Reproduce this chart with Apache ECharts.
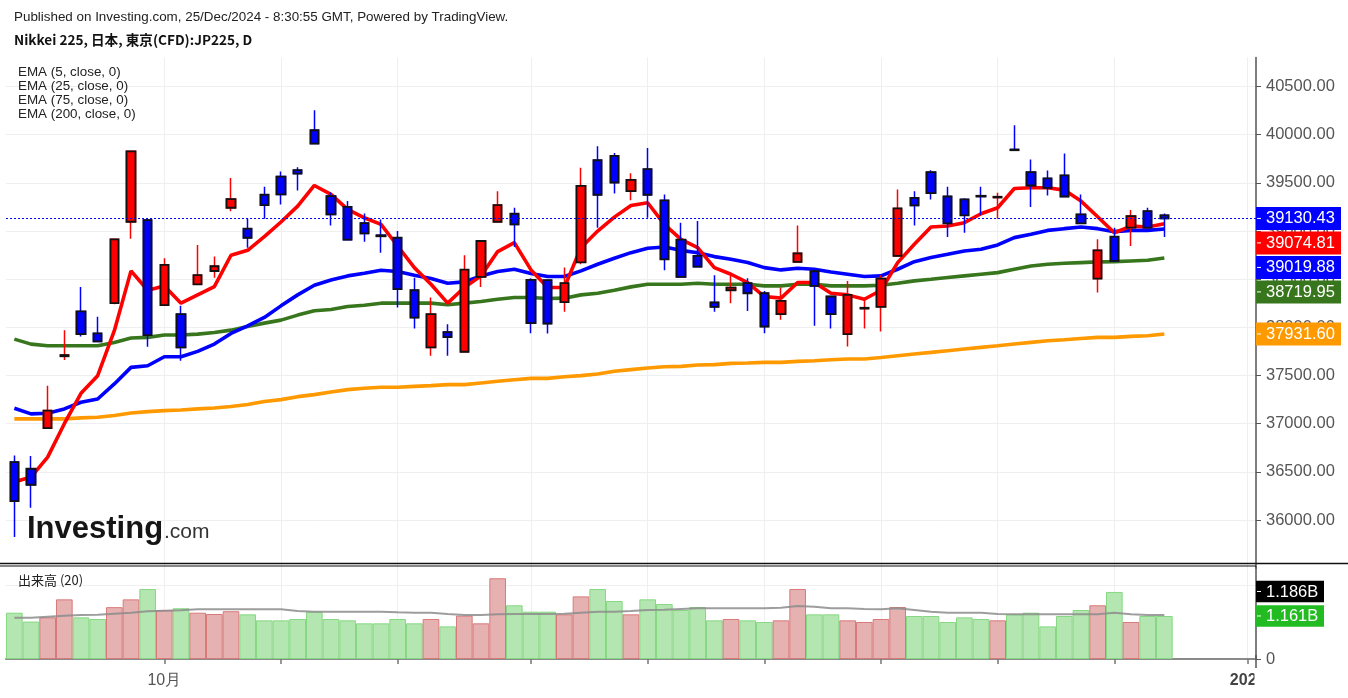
<!DOCTYPE html>
<html><head><meta charset="utf-8">
<script src="https://cdn.jsdelivr.net/npm/echarts@6/dist/echarts.min.js"></script>
<style>html,body{margin:0;padding:0;background:#fff}#c{width:1348px;height:698px}</style>
</head><body><div id="c"></div>
<script>
// ---------------- DATA ----------------
const categories = [
 '09/17','09/18','09/19','09/20','09/24','09/25','09/26','09/27','09/30',
 '10/01','10/02','10/03','10/04','10/07','10/08','10/09','10/10','10/11','10/15','10/16','10/17','10/18','10/21','10/22','10/23','10/24','10/25','10/28','10/29','10/30','10/31',
 '11/01','11/04','11/05','11/06','11/07','11/08','11/11','11/12','11/13','11/14','11/15','11/18','11/19','11/20','11/21','11/22','11/25','11/26','11/27','11/28','11/29',
 '12/02','12/03','12/04','12/05','12/06','12/09','12/10','12/11','12/12','12/13','12/16','12/17','12/18','12/19','12/20','12/23','12/24','12/25',
 '12/26','12/27','12/30','12/31','01/01'];
const opens  = [36602,36533,36954,37700,38165,37937,38251,39096,39113,38230,38137,38447,38585,39241,39024,39376,39565,39631,40045,39362,39251,39082,38955,38930,38385,37792,37951,37747,38523,39096,39179,38492,38490,38261,38675,39734,39779,39413,39641,39317,38910,38741,38258,38385,38458,38354,38137,38679,38582,38320,37930,38195,38213,38741,39344,39610,39358,39327,39365,39348,39845,39610,39545,39576,39172,38506,38941,39034,39206,39162];
const highs  = [36671,36664,37395,37971,38420,38109,38920,39830,39118,38717,38223,38855,38734,39551,39127,39458,39617,39662,40252,39400,39310,39182,39120,39000,38516,38310,38033,38748,38900,39413,39241,38510,38495,38620,39655,39879,39810,39600,39862,39379,39086,39103,38541,38534,38510,38378,38413,39058,38600,38325,38482,38303,38540,39431,39413,39630,39458,39340,39458,39396,40097,39741,39627,39803,39379,38913,39034,39217,39241,39182];
const lows   = [35826,36129,36945,37661,37906,37850,38240,38920,37799,38228,37654,38445,38516,39206,38827,39127,39275,39420,39905,39058,38905,38889,38775,38206,37989,37706,37706,37745,38420,39095,38834,37940,37935,38161,38654,39034,39389,39320,39137,38592,38520,38625,38161,38251,38171,37940,38078,38675,38016,37989,37802,37989,37958,38740,39058,39327,38937,38982,39162,39127,39836,39248,39369,39355,39075,38361,38685,38844,39030,38937];
const closes = [36198,36367,37137,37712,37930,37854,38913,39827,37920,38648,37792,38541,38634,39331,38930,39269,39379,39596,39907,39172,38910,38975,38945,38396,38102,38137,37899,38599,38896,39269,39068,38044,38040,38458,39469,39376,39503,39531,39376,38706,38523,38630,38213,38413,38354,38009,38275,38768,38430,38137,38337,38203,38506,39234,39265,39393,39079,39162,39358,39355,39838,39472,39448,39358,39079,38799,38689,39155,39034,39130.43];
const ema5   = [36395,36447,36654,37000,37316,37499,37965,38586,38385,38430,38251,38337,38423,38748,38799,38941,39093,39258,39472,39379,39224,39137,39068,38844,38620,38447,38251,38413,38534,38786,38879,38596,38413,38413,38827,38999,39144,39265,39293,39069,38913,38827,38620,38551,38465,38320,38303,38465,38465,38354,38337,38292,38385,38672,38862,39041,39051,39086,39179,39241,39441,39448,39448,39424,39310,39148,38982,39051,39041,39074.81];
const ema25  = [37161,37102,37109,37154,37223,37257,37413,37585,37602,37695,37695,37751,37827,37937,38016,38103,38223,38337,38437,38492,38534,38561,38592,38579,38541,38506,38458,38472,38534,38579,38603,38558,38527,38527,38586,38655,38717,38775,38820,38834,38799,38775,38734,38706,38672,38620,38596,38613,38603,38575,38551,38527,38534,38603,38682,38724,38758,38793,38810,38855,38931,38965,39006,39024,39041,39024,38993,39006,39006,39019.88];
const ema75  = [37878,37826,37809,37809,37809,37809,37844,37889,37896,37920,37920,37930,37947,37971,38009,38044,38075,38127,38172,38185,38216,38230,38251,38251,38251,38251,38234,38251,38268,38292,38310,38310,38299,38303,38337,38354,38385,38420,38448,38448,38448,38458,38448,38448,38448,38430,38430,38448,38448,38430,38430,38430,38437,38458,38482,38499,38517,38534,38551,38568,38603,38637,38655,38665,38672,38679,38682,38689,38696,38719.95];
const ema200 = [37050,37050,37050,37050,37061,37068,37085,37112,37126,37136,37143,37154,37164,37178,37199,37230,37250,37281,37302,37330,37354,37368,37378,37378,37388,37395,37406,37406,37423,37440,37457,37471,37471,37488,37499,37516,37544,37561,37578,37592,37595,37609,37613,37626,37630,37637,37637,37647,37654,37664,37671,37671,37688,37706,37723,37740,37758,37775,37792,37809,37827,37844,37861,37871,37885,37896,37896,37906,37913,37931.60];
// volume in billions
const volumes   = [1.25,1.01,1.125,1.61,1.125,1.08,1.40,1.61,1.89,1.32,1.37,1.25,1.215,1.29,1.206,1.044,1.044,1.08,1.278,1.08,1.044,0.963,0.963,1.08,0.963,1.08,0.88,1.17,0.963,2.18,1.45,1.278,1.278,1.206,1.69,1.89,1.566,1.206,1.61,1.485,1.323,1.404,1.044,1.08,1.044,0.999,1.044,1.89,1.206,1.206,1.044,0.999,1.08,1.404,1.161,1.161,0.999,1.125,1.08,1.044,1.206,1.25,0.88,1.161,1.323,1.45,1.81,0.999,1.161,1.161];
const volumeMA  = [1.116,1.116,1.143,1.17,1.188,1.197,1.224,1.251,1.287,1.305,1.314,1.341,1.341,1.341,1.341,1.341,1.341,1.296,1.278,1.278,1.278,1.278,1.278,1.26,1.251,1.251,1.215,1.188,1.188,1.206,1.215,1.215,1.215,1.224,1.251,1.278,1.278,1.296,1.323,1.332,1.35,1.368,1.368,1.368,1.368,1.368,1.386,1.431,1.413,1.368,1.368,1.35,1.341,1.368,1.323,1.278,1.251,1.251,1.251,1.215,1.206,1.206,1.206,1.206,1.206,1.206,1.251,1.206,1.19,1.186];
const tickIndex = [9,16,23,31,38,45,52,59,66,74];
const tickText  = ['10月','','','','','','','','','2025'];
const priceMin = 35500, priceMax = 40800, priceStep = 500;
const volMax = 2.5, volStep = 2;
const headerText = 'Published on Investing.com, 25/Dec/2024 - 8:30:55 GMT, Powered by TradingView.';
const titleText = 'Nikkei 225, 日本, 東京(CFD):JP225, D';
const legendText = ['EMA (5, close, 0)','EMA (25, close, 0)','EMA (75, close, 0)','EMA (200, close, 0)'];
const volLegend = '出来高 (20)';

// ---------------- CHART ----------------
const RED='#ff0000', BLUE='#0000ff', GREEN='#38761d', ORANGE='#ff9900';
const chart = echarts.init(document.getElementById('c'), null, {renderer:'canvas'});
const full = opens.map((o,i)=>[o, closes[i], lows[i], highs[i]]);
const bodies = opens.map((o,i)=>[o, closes[i], Math.min(o,closes[i]), Math.max(o,closes[i])]);
const volData = volumes.map((v,i)=>({
  value: v,
  itemStyle: closes[i] >= opens[i]
    ? {color:'#e6b1b1', borderColor:'#d97a7a'}
    : {color:'#b3e6b0', borderColor:'#86d882'}
}));
const vLines = tickIndex.map(i=>({xAxis: categories[i]}));
const font = '"Liberation Sans", Arial, sans-serif';
const GRIDC = '#efeff1';

const option = {
  animation:false,
  backgroundColor:'#ffffff',
  grid:[
    {left:6, right:92, top:57.5, height:510.8, containLabel:false, outerBoundsMode:'none'},
    {left:6, right:92, top:566.4, height:92.6, containLabel:false, outerBoundsMode:'none'}
  ],
  xAxis:[
    {type:'category', gridIndex:0, data:categories, boundaryGap:true,
     axisLine:{show:false}, axisTick:{show:false}, axisLabel:{show:false}, splitLine:{show:false}},
    {type:'category', gridIndex:1, data:categories, boundaryGap:true, offset:5,
     axisLine:{show:true, lineStyle:{color:'#8a8a8a', width:2}},
     axisTick:{show:true, alignWithLabel:true, length:5, lineStyle:{color:'#777', width:1.5},
       interval:(idx)=>tickIndex.includes(idx)},
     axisLabel:{show:true, interval:(idx)=>tickIndex.includes(idx), margin:9, hideOverlap:false,
       formatter:(v,idx)=>{const k=tickIndex.indexOf(idx); if(k<0) return ''; const t=tickText[k]; if(!t) return ''; return k===tickIndex.length-1?'{b|'+t+'}':'{n|'+t+'}';},
       rich:{n:{fontSize:16, color:'#555', fontFamily:font}, b:{fontSize:16, fontWeight:'bold', color:'#444', fontFamily:font}}},
     splitLine:{show:false}}
  ],
  yAxis:[
    {type:'value', gridIndex:0, position:'right', min:priceMin, max:priceMax, interval:priceStep, scale:true,
     axisLine:{show:true, lineStyle:{color:'#555', width:1.5}},
     axisTick:{show:true, length:5, lineStyle:{color:'#555'}},
     axisLabel:{show:true, showMinLabel:false, showMaxLabel:false, margin:10, fontSize:16.5, color:'#555', fontFamily:font,
       formatter:v=>v.toFixed(2)},
     splitLine:{show:true, showMaxLine:false, showMinLine:false, lineStyle:{color:GRIDC, width:1}}},
    {type:'value', gridIndex:1, position:'right', min:0, max:volMax, interval:volStep,
     axisLine:{show:true, lineStyle:{color:'#555', width:1.5}},
     axisTick:{show:true, length:5, lineStyle:{color:'#555'}},
     axisLabel:{show:true, showMaxLabel:false, margin:10, fontSize:16.5, color:'#555', fontFamily:font,
       formatter:v=> v===0 ? '0' : ''},
     splitLine:{show:true, showMaxLine:false, lineStyle:{color:GRIDC, width:1}}}
  ],
  series:[
    {type:'line', xAxisIndex:0, yAxisIndex:0, data:ema200, silent:true, showSymbol:false, z:0,
     lineStyle:{opacity:0},
     markLine:{silent:true, z:0, symbol:['none','none'], label:{show:false}, animation:false,
       lineStyle:{color:GRIDC, width:1, type:'solid'}, data:vLines}},
    {type:'line', xAxisIndex:1, yAxisIndex:1, data:volumeMA, silent:true, showSymbol:false, z:0,
     lineStyle:{opacity:0},
     markLine:{silent:true, z:0, symbol:['none','none'], label:{show:false}, animation:false,
       lineStyle:{color:GRIDC, width:1, type:'solid'}, data:vLines}},
    {name:'EMA200', type:'line', xAxisIndex:0, yAxisIndex:0, data:ema200, showSymbol:false, z:2, lineStyle:{color:ORANGE, width:3.6}},
    {name:'EMA75',  type:'line', xAxisIndex:0, yAxisIndex:0, data:ema75,  showSymbol:false, z:2, lineStyle:{color:GREEN, width:3.6}},
    {name:'EMA25',  type:'line', xAxisIndex:0, yAxisIndex:0, data:ema25,  showSymbol:false, z:2, lineStyle:{color:BLUE, width:3.6}},
    {name:'EMA5',   type:'line', xAxisIndex:0, yAxisIndex:0, data:ema5,   showSymbol:false, z:2, lineStyle:{color:RED, width:3.6}},
    {type:'candlestick', xAxisIndex:0, yAxisIndex:0, data:full, barWidth:9, z:3,
     itemStyle:{color:RED, color0:BLUE, borderColor:RED, borderColor0:BLUE, borderWidth:1.5}},
    {type:'candlestick', xAxisIndex:0, yAxisIndex:0, data:bodies, barWidth:9, z:4,
     itemStyle:{color:RED, color0:BLUE, borderColor:'#111', borderColor0:'#111', borderColorDoji:'#111', borderWidth:1.8},
     markLine:{silent:true, z:6, symbol:['none','none'], label:{show:false}, animation:false,
       lineStyle:{color:BLUE, width:1, type:[2,2]}, data:[{yAxis: closes[closes.length-1]}]}},
    {type:'bar', xAxisIndex:1, yAxisIndex:1, data:volData, barCategoryGap:'0%', z:2,
     itemStyle:{borderWidth:1}},
    {type:'line', xAxisIndex:1, yAxisIndex:1, data:volumeMA, showSymbol:false, z:3,
     lineStyle:{color:'rgba(140,140,140,0.85)', width:2}}
  ]
};
chart.setOption(option);

// ---------------- GRAPHICS / LABELS ----------------
function buildGraphics(){
  const g = [];
  g.push({type:'text', x:14, y:17, z:100, style:{text:headerText, font:'13.4px '+font, fill:'#222', textVerticalAlign:'middle'}});
  g.push({type:'text', x:14, y:40, z:100, style:{text:titleText, font:'bold 13.6px "Noto Sans CJK JP", sans-serif', fill:'#111', textVerticalAlign:'middle'}});
  legendText.forEach((t,i)=>g.push({type:'text', x:18, y:72+i*14, z:100, style:{text:t, font:'13.4px '+font, fill:'#222', textVerticalAlign:'middle'}}));
  g.push({type:'text', x:18, y:580, z:100, style:{text:volLegend, font:'13px "Noto Sans CJK JP", sans-serif', fill:'#222', textVerticalAlign:'middle'}});
  // logo
  g.push({type:'text', x:27, y:529, z:100, style:{text:'Investing', font:'bold 31px '+font, fill:'#151515', textVerticalAlign:'middle'}});
  g.push({type:'text', x:164, y:532, z:100, style:{text:'.com', font:'21px '+font, fill:'#333', textVerticalAlign:'middle'}});
  // pane separator
  g.push({type:'line', z:100, shape:{x1:0, y1:563.5, x2:1348, y2:563.5}, style:{stroke:'#111', lineWidth:1.5}});
  g.push({type:'line', z:100, shape:{x1:0, y1:566, x2:1256, y2:566}, style:{stroke:'#111', lineWidth:1.2}});
  // right axis extension below volume pane
  g.push({type:'line', z:100, shape:{x1:1256, y1:655, x2:1256, y2:668}, style:{stroke:'#555', lineWidth:1.5}});
  // mask that clips year label at price-axis edge
  g.push({type:'rect', z:100, shape:{x:1254.5, y:670, width:94, height:28}, style:{fill:'#fff'}});

  // price value labels
  const n = closes.length-1;
  const items = [
    {v:closes[n], bg:BLUE}, {v:ema5[n], bg:RED}, {v:ema25[n], bg:BLUE}, {v:ema75[n], bg:GREEN}, {v:ema200[n], bg:ORANGE}
  ];
  items.forEach(it=>{ it.y = chart.convertToPixel({yAxisIndex:0}, it.v); });
  items.sort((a,b)=>a.y-b.y);
  for(let i=1;i<items.length;i++){ if(items[i].y < items[i-1].y+24.5) items[i].y = items[i-1].y+24.5; }
  items.forEach(it=>{
    g.push({type:'rect', z:110, shape:{x:1256, y:it.y-11.5, width:85, height:23}, style:{fill:it.bg}});
    g.push({type:'line', z:111, shape:{x1:1257, y1:it.y, x2:1261, y2:it.y}, style:{stroke:'#fff', lineWidth:1}});
    g.push({type:'text', x:1266, y:it.y+0.5, z:111, style:{text:it.v.toFixed(2), font:'16.5px '+font, fill:'#fff', textVerticalAlign:'middle'}});
  });
  // volume labels
  const yv = chart.convertToPixel({yAxisIndex:1}, volumes[n]);
  let ym = chart.convertToPixel({yAxisIndex:1}, volumeMA[n]);
  ym = Math.min(ym, yv-24.5);
  [[ym, '#000000', volumeMA[n]], [yv, '#22bb22', volumes[n]]].forEach(([y,bg,v])=>{
    g.push({type:'rect', z:110, shape:{x:1256, y:y-10.7, width:68, height:21.4}, style:{fill:bg}});
    g.push({type:'line', z:111, shape:{x1:1257, y1:y, x2:1261, y2:y}, style:{stroke:'#fff', lineWidth:1}});
    g.push({type:'text', x:1266, y:y+0.5, z:111, style:{text:v.toFixed(3)+'B', font:'16.5px '+font, fill:'#fff', textVerticalAlign:'middle'}});
  });
  return g;
}
chart.setOption({graphic: buildGraphics()});
</script>
</body></html>
